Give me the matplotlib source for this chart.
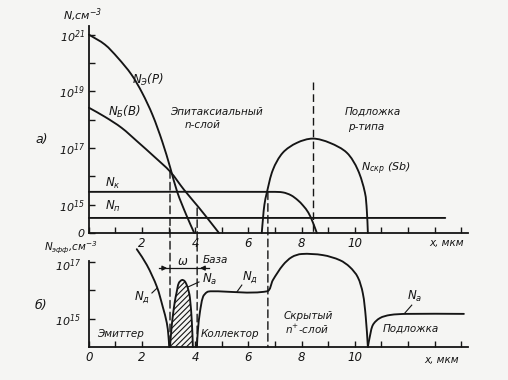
import numpy as np
import matplotlib.pyplot as plt
from matplotlib.patches import ConnectionPatch, PathPatch
from matplotlib.path import Path
from matplotlib.ticker import NullLocator

plt.rcParams['font.family'] = ['DejaVu Sans']
plt.rcParams['font.style'] = 'italic'
plt.rcParams['mathtext.fontset'] = 'dejavusans'
plt.rcParams['mathtext.default'] = 'it'
plt.rcParams['hatch.linewidth'] = 0.8

INK = '#151515'

# ---- panel а): impurity profiles, log10(N, cm^-3) vs x, um ----
x_ne = [0, 0.6, 1.08, 1.6, 2.0, 2.39, 2.76, 3.06, 3.32, 3.66, 3.96]
lg_ne = [21.0, 20.65, 20.19, 19.59, 18.95, 18.17, 17.22, 16.3, 15.45, 14.64, 14.0]

x_nb = [0, 0.6, 1.23, 1.83, 2.46, 3.06, 3.58, 4.14, 4.59, 4.89]
lg_nb = [18.42, 18.1, 17.71, 17.22, 16.69, 16.16, 15.52, 14.89, 14.36, 14.0]

x_nk = [0, 6.9, 7.3, 7.6, 7.85, 8.05, 8.25, 8.4, 8.5, 8.57]
lg_nk = [15.45, 15.45, 15.43, 15.33, 15.16, 14.97, 14.72, 14.42, 14.18, 14.0]

x_np = [0, 13.4]
lg_np = [14.53, 14.53]

x_nskr = [6.5, 6.55, 6.6, 6.69, 6.92, 7.29, 7.82, 8.42, 9.06, 9.7, 10.11, 10.38, 10.45, 10.49]
lg_nskr = [14.0, 14.55, 15.0, 15.42, 16.23, 16.83, 17.18, 17.33, 17.18, 16.83, 16.23, 15.42, 14.8, 14.0]

# ---- panel б): effective doping ----
x_de = [1.8, 2.18, 2.56, 2.78, 2.93, 2.99, 3.02]
lg_de = [17.46, 16.9, 16.12, 15.41, 14.85, 14.4, 14.0]

x_base = [3.05, 3.1, 3.16, 3.23, 3.3, 3.38, 3.5, 3.6, 3.68, 3.75, 3.8, 3.87, 3.91]
lg_base = [14.0, 14.6, 15.13, 15.6, 15.94, 16.26, 16.37, 16.33, 16.19, 15.98, 15.73, 14.9, 14.0]

x_dc = [4.06, 4.1, 4.17, 4.29, 4.44, 4.6, 6.7, 6.92, 7.3, 7.63, 8.0, 8.8, 9.44, 9.81, 10.11, 10.3, 10.41, 10.49]
lg_dc = [14.0, 14.6, 15.2, 15.77, 15.94, 15.97, 15.97, 16.37, 16.9, 17.18, 17.29, 17.25, 17.07, 16.83, 16.47, 15.9, 15.06, 14.0]

x_sub = [10.49, 10.56, 10.68, 10.94, 11.32, 11.95, 14.1]
lg_sub = [14.0, 14.35, 14.78, 15.02, 15.13, 15.17, 15.17]

# dashed verticals: x, upper end (log10 N in panel а), runs down into panel б?
dash_x = [3.05, 4.07, 6.73, 8.42]
dash_top = [16.2, 14.88, 15.45, 19.34]
dash_through = [True, True, True, False]

top_ticks = [14, 15, 16, 17, 18, 19, 20, 21]
top_labels = ['0', '$10^{15}$', '', '$10^{17}$', '', '$10^{19}$', '', '$10^{21}$']
bot_ticks = [15, 16, 17]
bot_labels = ['$10^{15}$', '$10^{17}$']
bot_label_lg = [14.92, 16.86]
x_ticks = list(range(0, 15))
top_xlabels = ['', '', '2', '', '4', '', '6', '', '8', '', '10', '', '', '', '']
bot_xlabels = ['0', '', '2', '', '4', '', '6', '', '8', '', '10', '', '', '', '']


def p(v):
    return 10.0 ** np.asarray(v, dtype=float)


def smooth_path(xs, lgs, close_base=None):
    # cubic Bezier through the read points (chord-length Catmull-Rom), log space
    pts = np.column_stack([xs, lgs]).astype(float)
    n = len(pts)
    t = np.concatenate([[0.0], np.cumsum(np.hypot(*np.diff(pts, axis=0).T))])
    m = np.zeros_like(pts)
    m[0] = (pts[1] - pts[0]) / (t[1] - t[0])
    m[-1] = (pts[-1] - pts[-2]) / (t[-1] - t[-2])
    for i in range(1, n - 1):
        m[i] = (pts[i + 1] - pts[i - 1]) / (t[i + 1] - t[i - 1])
    verts = [pts[0]]
    codes = [Path.MOVETO]
    for i in range(n - 1):
        dt = t[i + 1] - t[i]
        verts += [pts[i] + m[i] * dt / 3.0, pts[i + 1] - m[i + 1] * dt / 3.0, pts[i + 1]]
        codes += [Path.CURVE4] * 3
    if close_base is not None:
        verts += [[pts[-1, 0], close_base], [pts[0, 0], close_base], pts[0]]
        codes += [Path.LINETO, Path.LINETO, Path.CLOSEPOLY]
    verts = np.array(verts)
    verts[:, 1] = 10.0 ** verts[:, 1]
    return Path(verts, codes)


def curve(ax, xs, lgs):
    ax.add_patch(PathPatch(smooth_path(xs, lgs), facecolor='none', edgecolor=INK,
                           lw=1.35, capstyle='round', clip_on=False))


fig = plt.figure(figsize=(5.08, 3.8), dpi=100)
fig.patch.set_facecolor('#f5f5f3')

ax1 = fig.add_axes([0.175, 0.387, 0.746, 0.545])
ax2 = fig.add_axes([0.175, 0.087, 0.746, 0.226])

for ax in (ax1, ax2):
    ax.set_facecolor('none')
    ax.set_yscale('log')
    ax.set_xlim(0, 14.25)
    for s in ('top', 'right'):
        ax.spines[s].set_visible(False)
    for s in ('left', 'bottom'):
        ax.spines[s].set_linewidth(1.3)
        ax.spines[s].set_color(INK)
    ax.tick_params(direction='in', length=4, width=1.0, colors=INK,
                   labelsize=8.5, pad=3)
    ax.set_xticks(x_ticks)

ax1.set_ylim(1e14, 10 ** 21.31)
ax2.set_ylim(1e14, 10 ** 17.04)
ax1.set_yticks(p(top_ticks), top_labels)
ax2.set_yticks(p(bot_ticks), [''] * len(bot_ticks))
ax1.yaxis.set_minor_locator(NullLocator())
ax2.yaxis.set_minor_locator(NullLocator())
ax1.tick_params(axis='y', labelsize=8)
ax1.set_xticklabels(top_xlabels)
ax2.set_xticklabels(bot_xlabels)
for lab, lg in zip(bot_labels, bot_label_lg):
    ax2.text(-0.3, 10 ** lg, lab, ha='right', va='center', fontsize=8, color=INK)

for xs, ys in [(x_ne, lg_ne), (x_nb, lg_nb), (x_nk, lg_nk), (x_np, lg_np), (x_nskr, lg_nskr)]:
    curve(ax1, xs, ys)

for xs, ys in [(x_de, lg_de), (x_dc, lg_dc), (x_sub, lg_sub)]:
    curve(ax2, xs, ys)

ax2.add_patch(PathPatch(smooth_path(x_base, lg_base, close_base=14.0),
                        facecolor='none', edgecolor=INK, hatch='//////', lw=0))
curve(ax2, x_base, lg_base)

# dashed construction lines
for xd, yt, thru in zip(dash_x, dash_top, dash_through):
    if thru:
        con = ConnectionPatch(xyA=(xd, 10 ** yt), coordsA=ax1.transData,
                              xyB=(xd, 1e14), coordsB=ax2.transData,
                              color=INK, lw=1.0, linestyle=(0, (5.5, 3)))
        fig.add_artist(con)
    else:
        ax1.plot([xd, xd], [10 ** yt, 1e14], color=INK, lw=1.0,
                 linestyle=(0, (5.5, 3)))

# width of the base, omega
ya = 10 ** 16.79
ax2.plot([2.65, 4.5], [ya, ya], color=INK, lw=0.9, clip_on=False)
ax2.annotate('', xy=(3.05, ya), xytext=(2.65, ya), annotation_clip=False,
             arrowprops=dict(arrowstyle='-|>', color=INK, lw=0.9, mutation_scale=7))
ax2.annotate('', xy=(4.07, ya), xytext=(4.5, ya), annotation_clip=False,
             arrowprops=dict(arrowstyle='-|>', color=INK, lw=0.9, mutation_scale=7))

fs = 7.5
kw = dict(color=INK, fontsize=fs, clip_on=False)
nfs = 8.5

# ---- panel а) texts ----
ax1.text(-0.98, 10 ** 21.67, 'N,см$^{-3}$', ha='left', va='center', fontsize=8, color=INK)
ax1.text(-1.77, 10 ** 17.29, 'а)', ha='center', va='center', fontsize=9, color=INK)
ax1.text(2.22, 10 ** 19.41, '$N_{Э}(P)$', ha='center', va='center', fontsize=nfs, color=INK)
ax1.text(1.32, 10 ** 18.28, '$N_{Б}(B)$', ha='center', va='center', fontsize=nfs, color=INK)
ax1.text(3.05, 10 ** 18.28, 'Эпитаксиальный', ha='left', va='center', **kw)
ax1.text(3.61, 10 ** 17.82, 'n-слой', ha='left', va='center', **kw)
ax1.text(9.62, 10 ** 18.28, 'Подложка', ha='left', va='center', **kw)
ax1.text(9.74, 10 ** 17.75, 'p-типа', ha='left', va='center', **kw)
ax1.text(11.17, 10 ** 16.26, '$N_{скр}$ (Sb)', ha='center', va='center', fontsize=8, color=INK)
ax1.text(0.9, 10 ** 15.73, '$N_{к}$', ha='center', va='center', fontsize=nfs, color=INK)
ax1.text(0.9, 10 ** 14.92, '$N_{п}$', ha='center', va='center', fontsize=nfs, color=INK)
ax1.text(13.46, 10 ** 13.65, 'x, мкм', ha='center', va='center', **kw)

# ---- panel б) texts ----
ax2.text(-0.68, 10 ** 17.5, '$N_{эфф}$,см$^{-3}$', ha='center', va='center', **kw)
ax2.text(-1.8, 10 ** 15.45, 'б)', ha='center', va='center', fontsize=9, color=INK)
ax2.text(1.17, 10 ** 14.46, 'Эмиттер', ha='center', va='center', **kw)
ax2.text(5.3, 10 ** 14.46, 'Коллектор', ha='center', va='center', **kw)
ax2.text(8.23, 10 ** 15.1, 'Скрытый', ha='center', va='center', **kw)
ax2.text(8.2, 10 ** 14.62, 'n$^{+}$-слой', ha='center', va='center', **kw)
ax2.text(12.1, 10 ** 14.64, 'Подложка', ha='center', va='center', **kw)
ax2.text(3.53, 10 ** 17.04, 'ω', ha='center', va='center', fontsize=8.5, color=INK)
ax2.text(4.77, 10 ** 17.07, 'База', ha='center', va='center', **kw)
ax2.text(13.27, 10 ** 13.54, 'x, мкм', ha='center', va='center', **kw)

# labels with leader lines
leaders = [
    ('$N_{а}$', 12.26, 15.8, (12.14, 15.48), (11.88, 15.2)),
    ('$N_{д}$', 6.05, 16.47, (5.75, 16.19), (5.56, 15.94)),
    ('$N_{а}$', 4.55, 16.4, (4.14, 16.3), (3.72, 16.12)),
    ('$N_{д}$', 1.99, 15.77, (2.37, 15.91), (2.56, 16.08)),
]
for txt, tx, ty, a, b in leaders:
    ax2.text(tx, 10 ** ty, txt, ha='center', va='center', fontsize=nfs, color=INK)
    ax2.plot([a[0], b[0]], [10 ** a[1], 10 ** b[1]], color=INK, lw=0.8)

fig.savefig('out.png', dpi=100, facecolor=fig.get_facecolor())
